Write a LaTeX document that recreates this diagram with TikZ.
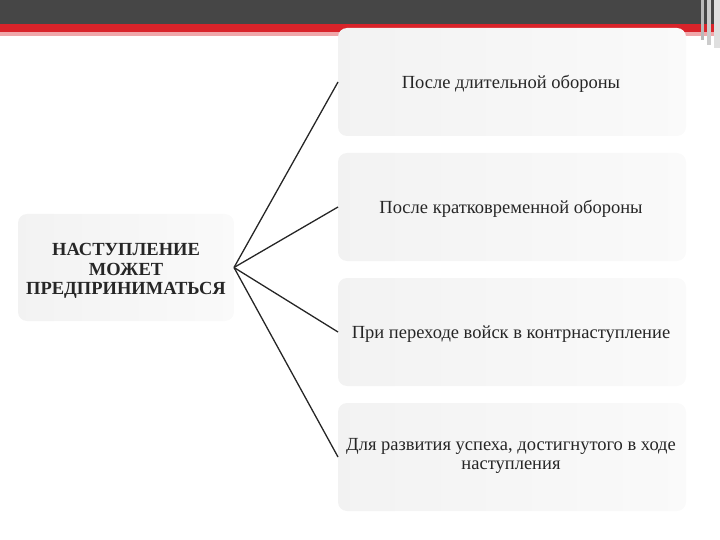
\documentclass[tikz,border=0pt]{standalone}
\usepackage{fontspec}
\setmainfont{Liberation Serif}
\definecolor{bandred}{HTML}{D9232A}
\definecolor{bandgray}{HTML}{464646}
\begin{document}
\begin{tikzpicture}[x=1pt,y=-1pt,
  box/.style={rounded corners=9pt, left color=black!5, right color=black!2, inner sep=0pt, outer sep=0pt},
  bigbox/.style={box, minimum width=348pt, minimum height=108pt},
  lab/.style={text=black!85, font=\fontsize{18.5}{19.5}\selectfont, align=center},
  conn/.style={draw=black!85, line width=1.3pt}]
\useasboundingbox (0,0) rectangle (720,540);
% top band
\fill[bandgray] (0,0) rectangle (720,24);
\fill[bandred] (0,24) rectangle (720,32);
\fill[bandred!40] (0,32) rectangle (720,36);
\fill[gray!55] (701,0) rectangle (704,40);
\fill[gray!40] (707,0) rectangle (711,45);
\fill[gray!25] (714,0) rectangle (720,48);
% boxes
\node[bigbox] (b1) at (512,82) {};
\node[bigbox] (b2) at (512,207) {};
\node[bigbox] (b3) at (512,332) {};
\node[bigbox] (b4) at (512,457) {};
\node[box, minimum width=216pt, minimum height=107pt] (m) at (126,267.5) {};
% labels
\node[lab] (t1) at (511,84) {После длительной обороны};
\node[lab] (t2) at (511,209) {После кратковременной обороны};
\node[lab] (t3) at (511,334) {При переходе войск в контрнаступление};
\node[lab] (t4) at (511,456) {Для развития успеха, достигнутого в ходе\\наступления};
\node[lab,font=\bfseries\fontsize{18.5}{19.5}\selectfont] (tm) at (126,271) {НАСТУПЛЕНИЕ\\МОЖЕТ\\ПРЕДПРИНИМАТЬСЯ};
% connectors
\draw[conn] (m.east) -- (b1.west);
\draw[conn] (m.east) -- (b2.west);
\draw[conn] (m.east) -- (b3.west);
\draw[conn] (m.east) -- (b4.west);
\end{tikzpicture}
\end{document}
